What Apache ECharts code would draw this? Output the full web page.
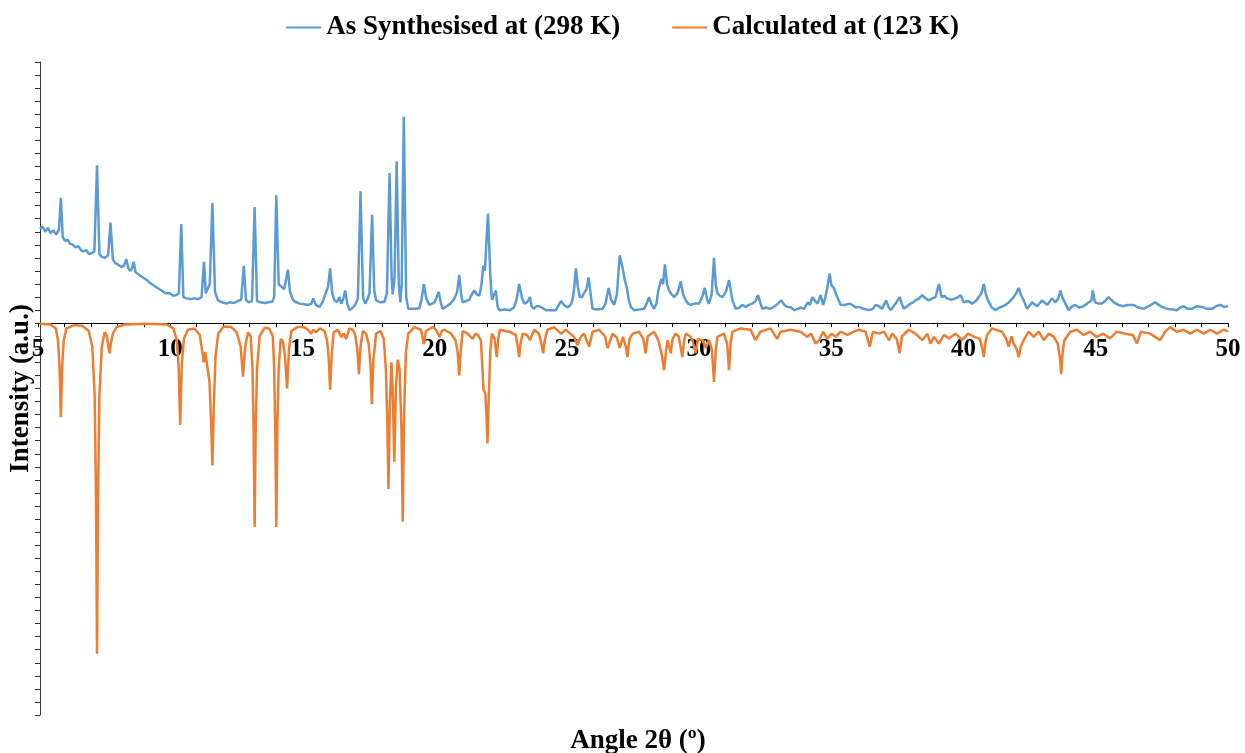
<!DOCTYPE html>
<html>
<head>
<meta charset="utf-8">
<title>PXRD</title>
<script src="https://cdn.jsdelivr.net/npm/echarts@6/dist/echarts.min.js"></script>
<style>
    html, body {margin: 0; padding: 0; background: #fff;}
    #main {width: 1245px; height: 753px;}
</style>
</head>
<body>
<div id="main"></div>
<script>
//legend names
let seriesNames = ['As Synthesised at (298 K)', 'Calculated at (123 K)']
//axis titles
let xTitle = 'Angle 2θ (º)'
let yTitle = 'Intensity (a.u.)'
//x axis range and the labelled angles
let angleMin = 5
let angleMax = 50
let angleLabels = [5, 10, 15, 20, 25, 30, 35, 40, 45, 50]
//intensity range (measured above zero, calculated below)
let intensityMin = -30
let intensityMax = 20

//measured pattern [2theta, intensity]
let asSynthesised = [
    [5.00, 7.2], [5.1, 7.4], [5.2, 7.0], [5.3, 7.3], [5.4, 6.9], [5.5, 7.1], [5.62, 6.8], [5.72, 7.2], [5.79, 9.6], [5.86, 6.6],
    [5.95, 6.3], [6.05, 6.4], [6.13, 6.1], [6.25, 6.0], [6.35, 5.8], [6.45, 5.9], [6.55, 5.6], [6.63, 5.5], [6.75, 5.6], [6.85, 5.3],
    [6.95, 5.35], [7.06, 5.5], [7.16, 12.1], [7.25, 5.3], [7.33, 5.1], [7.45, 5.0], [7.58, 5.2], [7.67, 7.7], [7.76, 4.9], [7.85, 4.6],
    [7.95, 4.5], [8.08, 4.3], [8.18, 4.4], [8.27, 4.9], [8.35, 4.2], [8.42, 4.0], [8.48, 4.2], [8.55, 4.7], [8.62, 3.9], [8.75, 3.7],
    [8.9, 3.5], [9.05, 3.3], [9.15, 3.1], [9.3, 2.9], [9.45, 2.7], [9.6, 2.5], [9.75, 2.3], [9.9, 2.3], [10.05, 2.1], [10.16, 2.15],
    [10.26, 2.3], [10.35, 7.6], [10.43, 2.0], [10.55, 1.9], [10.7, 1.85], [10.85, 1.9], [11.0, 1.85], [11.12, 2.0], [11.21, 4.7], [11.28, 2.3],
    [11.35, 2.3], [11.43, 3.0], [11.53, 9.2], [11.63, 2.4], [11.74, 1.75], [11.9, 1.6], [12.05, 1.5], [12.2, 1.6], [12.35, 1.55], [12.5, 1.7],
    [12.62, 1.8], [12.72, 4.4], [12.8, 1.8], [12.9, 1.6], [13.03, 1.7], [13.13, 8.9], [13.22, 1.7], [13.35, 1.6], [13.5, 1.55], [13.65, 1.6],
    [13.8, 1.65], [13.87, 2.0], [13.95, 9.8], [14.04, 3.0], [14.14, 2.8], [14.25, 2.6], [14.39, 4.1], [14.47, 2.4], [14.58, 1.8], [14.7, 1.6],
    [14.85, 1.5], [15.0, 1.45], [15.15, 1.4], [15.28, 1.5], [15.35, 1.9], [15.45, 1.4], [15.59, 1.25], [15.7, 1.6], [15.84, 2.4], [15.91, 2.8],
    [15.99, 4.2], [16.07, 2.3], [16.15, 1.75], [16.25, 1.6], [16.34, 2.0], [16.41, 1.5], [16.48, 1.8], [16.56, 2.5], [16.64, 1.5], [16.72, 1.0],
    [16.85, 1.2], [16.94, 1.4], [17.04, 1.9], [17.14, 10.1], [17.24, 1.9], [17.32, 1.5], [17.42, 1.9], [17.48, 2.3], [17.58, 8.3], [17.66, 2.5],
    [17.73, 1.75], [17.9, 1.6], [18.05, 1.65], [18.14, 2.3], [18.24, 11.5], [18.32, 3.5], [18.36, 2.2], [18.43, 3.5], [18.51, 12.4], [18.59, 3.0],
    [18.65, 1.6], [18.7, 3.0], [18.78, 15.8], [18.87, 2.0], [18.95, 1.1], [19.1, 1.1], [19.25, 1.1], [19.37, 1.15], [19.45, 1.8], [19.54, 3.0],
    [19.63, 1.9], [19.75, 1.4], [19.85, 1.5], [19.95, 1.6], [20.1, 2.4], [20.18, 1.6], [20.25, 1.1], [20.4, 1.3], [20.55, 1.5], [20.7, 1.9],
    [20.8, 2.4], [20.88, 3.7], [20.96, 2.1], [21.01, 1.6], [21.15, 1.7], [21.26, 1.8], [21.35, 2.2], [21.45, 2.5], [21.55, 2.2], [21.64, 2.1],
    [21.72, 2.9], [21.79, 4.4], [21.85, 4.0], [21.97, 8.4], [22.06, 3.5], [22.12, 1.8], [22.2, 2.2], [22.27, 2.5], [22.33, 1.3], [22.4, 1.0],
    [22.6, 1.05], [22.8, 1.0], [22.95, 1.2], [23.05, 1.8], [23.15, 3.0], [23.25, 2.0], [23.34, 1.5], [23.45, 1.6], [23.56, 2.0], [23.62, 1.3],
    [23.7, 1.1], [23.8, 1.3], [23.91, 1.3], [24.0, 1.2], [24.16, 1.0], [24.35, 1.0], [24.54, 1.0], [24.65, 1.4], [24.73, 1.7], [24.85, 1.4],
    [24.98, 1.2], [25.1, 1.4], [25.17, 1.8], [25.23, 2.6], [25.3, 4.2], [25.37, 2.8], [25.45, 2.0], [25.53, 2.0], [25.61, 2.3], [25.7, 2.6],
    [25.78, 3.5], [25.86, 2.2], [25.93, 1.1], [26.1, 1.05], [26.31, 1.1], [26.42, 1.5], [26.54, 2.7], [26.63, 1.8], [26.75, 1.4], [26.85, 2.2],
    [26.96, 5.2], [27.07, 4.2], [27.15, 3.3], [27.23, 2.7], [27.3, 1.8], [27.38, 1.25], [27.5, 1.0], [27.7, 1.05], [27.88, 1.1], [27.98, 1.5],
    [28.07, 2.0], [28.15, 1.5], [28.26, 1.1], [28.35, 1.5], [28.42, 2.5], [28.54, 3.4], [28.6, 3.0], [28.67, 4.5], [28.75, 3.0], [28.83, 2.5],
    [28.93, 2.2], [29.02, 2.0], [29.15, 2.3], [29.27, 3.2], [29.36, 2.2], [29.46, 1.75], [29.55, 1.5], [29.65, 1.4], [29.8, 1.5], [29.97, 1.5],
    [30.08, 2.0], [30.18, 2.7], [30.27, 1.8], [30.34, 1.5], [30.44, 2.2], [30.53, 5.0], [30.6, 2.9], [30.66, 2.3], [30.76, 2.1], [30.85, 2.0],
    [30.98, 2.4], [31.1, 3.3], [31.18, 2.3], [31.23, 1.75], [31.35, 1.1], [31.5, 1.2], [31.6, 1.4], [31.73, 1.25], [31.85, 1.4], [31.98, 1.5],
    [32.1, 1.7], [32.2, 2.15], [32.28, 1.6], [32.36, 1.1], [32.5, 1.2], [32.65, 1.1], [32.8, 1.25], [32.95, 1.5], [33.08, 1.75], [33.2, 1.4],
    [33.31, 1.25], [33.45, 1.2], [33.56, 1.0], [33.7, 1.1], [33.8, 1.2], [33.94, 1.1], [34.08, 1.6], [34.16, 1.4], [34.26, 2.0], [34.36, 1.7],
    [34.45, 1.5], [34.57, 2.15], [34.66, 1.4], [34.75, 2.0], [34.82, 2.7], [34.91, 3.8], [34.98, 2.9], [35.07, 2.7], [35.2, 2.0], [35.33, 1.4],
    [35.5, 1.4], [35.65, 1.5], [35.77, 1.4], [35.9, 1.2], [36.02, 1.25], [36.2, 1.1], [36.4, 1.0], [36.55, 1.1], [36.65, 1.4], [36.78, 1.3],
    [36.9, 1.1], [37.05, 1.75], [37.15, 1.2], [37.22, 1.0], [37.41, 1.5], [37.56, 2.0], [37.64, 1.5], [37.72, 1.1], [37.85, 1.3], [37.97, 1.5],
    [38.08, 1.6], [38.16, 1.75], [38.3, 1.9], [38.42, 2.15], [38.55, 1.9], [38.67, 1.75], [38.8, 1.9], [38.92, 2.0], [39.05, 3.0], [39.15, 2.0],
    [39.25, 2.1], [39.36, 1.9], [39.5, 1.8], [39.68, 1.9], [39.78, 2.0], [39.87, 2.15], [39.99, 1.6], [40.15, 1.7], [40.31, 1.5], [40.45, 1.7],
    [40.56, 2.0], [40.66, 2.3], [40.75, 3.0], [40.83, 2.2], [40.91, 1.75], [41.05, 1.2], [41.19, 1.0], [41.35, 1.2], [41.57, 1.4], [41.7, 1.6],
    [41.88, 2.0], [41.98, 2.3], [42.07, 2.7], [42.17, 2.1], [42.26, 1.75], [42.39, 1.1], [42.58, 1.6], [42.77, 1.3], [42.96, 1.75], [43.15, 1.4],
    [43.33, 1.9], [43.46, 1.6], [43.57, 1.9], [43.65, 2.5], [43.72, 2.0], [43.77, 1.9], [43.96, 1.0], [44.1, 1.3], [44.22, 1.4], [44.35, 1.2],
    [44.47, 1.25], [44.6, 1.4], [44.72, 1.6], [44.82, 1.7], [44.88, 2.5], [44.94, 1.8], [44.97, 1.6], [45.1, 1.5], [45.22, 1.5], [45.35, 1.7],
    [45.47, 2.0], [45.57, 1.8], [45.67, 1.6], [45.85, 1.4], [46.04, 1.3], [46.2, 1.4], [46.42, 1.4], [46.6, 1.2], [46.8, 1.1], [47.0, 1.3],
    [47.24, 1.6], [47.45, 1.3], [47.69, 1.1], [47.9, 1.05], [48.06, 1.0], [48.2, 1.2], [48.32, 1.3], [48.45, 1.1], [48.63, 1.1], [48.8, 1.3],
    [49.01, 1.25], [49.2, 1.1], [49.39, 1.1], [49.55, 1.3], [49.71, 1.4], [49.85, 1.25], [50.0, 1.3]
]

//calculated pattern, drawn downwards [2theta, intensity]
let calculated = [
    [5.0, -0.05], [5.4, -0.1], [5.6, -0.4], [5.68, -1.3], [5.74, -3.3], [5.79, -7.2], [5.84, -3.3], [5.9, -1.3], [6.0, -0.4], [6.3, -0.15],
    [6.6, -0.2], [6.85, -0.6], [6.98, -1.8], [7.07, -5.5], [7.12, -13], [7.16, -25.3], [7.2, -13], [7.25, -5.5], [7.34, -1.8], [7.45, -0.7],
    [7.52, -0.9], [7.6, -1.9], [7.64, -2.3], [7.68, -1.6], [7.76, -0.8], [7.9, -0.3], [8.2, -0.1], [9.0, -0.05], [9.8, -0.1], [10.05, -0.4],
    [10.18, -1.3], [10.25, -3.2], [10.31, -7.8], [10.37, -3.2], [10.45, -1.2], [10.6, -0.5], [10.85, -0.4], [11.05, -0.9], [11.15, -2.2], [11.2, -3.0],
    [11.26, -2.2], [11.32, -2.1], [11.42, -4.5], [11.48, -7.5], [11.53, -10.9], [11.58, -6.5], [11.65, -2.5], [11.75, -0.8], [11.95, -0.25], [12.25, -0.3],
    [12.45, -0.7], [12.6, -1.8], [12.69, -4.1], [12.77, -1.8], [12.88, -0.7], [12.98, -1.0], [13.05, -3.5], [13.09, -8], [13.13, -15.6], [13.17, -8],
    [13.22, -3.5], [13.32, -1.0], [13.5, -0.35], [13.68, -0.4], [13.82, -1.0], [13.87, -3.5], [13.91, -8], [13.95, -15.6], [13.99, -8], [14.04, -3.5],
    [14.12, -1.2], [14.2, -1.4], [14.28, -2.5], [14.36, -5.0], [14.43, -2.0], [14.52, -0.6], [14.75, -0.3], [15.0, -0.3], [15.15, -0.5], [15.27, -0.8],
    [15.35, -0.5], [15.45, -0.7], [15.6, -0.4], [15.78, -0.6], [15.88, -1.4], [15.94, -2.8], [15.99, -5.1], [16.05, -2.4], [16.12, -0.7], [16.28, -0.5],
    [16.41, -1.05], [16.5, -0.8], [16.6, -1.2], [16.72, -0.4], [16.85, -0.5], [16.94, -0.9], [17.02, -2.0], [17.08, -3.9], [17.14, -1.8], [17.23, -0.6],
    [17.35, -0.8], [17.45, -1.6], [17.52, -3.2], [17.57, -6.2], [17.63, -2.8], [17.73, -0.8], [17.9, -0.6], [18.02, -1.2], [18.1, -3.5], [18.15, -7],
    [18.2, -12.7], [18.25, -6.5], [18.31, -3.0], [18.36, -5], [18.42, -10.6], [18.48, -5], [18.55, -2.8], [18.62, -3.5], [18.69, -8], [18.74, -15.2],
    [18.79, -7], [18.86, -2.2], [18.95, -0.8], [19.18, -0.3], [19.43, -0.5], [19.54, -1.6], [19.62, -0.6], [19.87, -0.3], [20.0, -0.5], [20.13, -1.05],
    [20.22, -0.6], [20.32, -0.5], [20.57, -0.8], [20.74, -1.3], [20.82, -2.2], [20.88, -4.0], [20.94, -2.0], [21.01, -0.6], [21.2, -0.8], [21.39, -1.2],
    [21.5, -0.8], [21.58, -0.9], [21.7, -1.3], [21.76, -3.5], [21.8, -5.1], [21.87, -5.4], [21.91, -7], [21.95, -9.2], [22.0, -5.5], [22.06, -2],
    [22.12, -0.8], [22.22, -1.2], [22.3, -2.6], [22.36, -1.2], [22.42, -0.5], [22.77, -0.65], [23.02, -0.9], [23.1, -1.8], [23.15, -2.6], [23.2, -1.6],
    [23.28, -0.8], [23.45, -0.9], [23.56, -1.3], [23.72, -0.5], [23.9, -0.8], [24.0, -1.6], [24.06, -2.3], [24.12, -1.3], [24.22, -0.5], [24.47, -0.3],
    [24.73, -0.8], [24.92, -0.5], [25.23, -1.05], [25.36, -1.7], [25.48, -1.05], [25.61, -0.8], [25.8, -1.8], [25.93, -0.65], [26.18, -0.5], [26.4, -1.0],
    [26.5, -1.9], [26.69, -0.8], [26.85, -1.1], [26.96, -1.9], [27.08, -1.05], [27.19, -1.8], [27.25, -2.6], [27.33, -1.2], [27.45, -0.8], [27.69, -0.65],
    [27.85, -1.2], [27.94, -2.3], [28.02, -1.0], [28.26, -0.65], [28.42, -1.3], [28.55, -2.4], [28.64, -3.6], [28.72, -2.0], [28.77, -1.3], [28.89, -2.3],
    [28.96, -1.2], [29.08, -0.8], [29.2, -1.05], [29.33, -2.6], [29.4, -1.3], [29.46, -0.8], [29.62, -1.0], [29.71, -1.3], [29.84, -2.3], [29.92, -1.2],
    [29.97, -1.05], [30.1, -1.3], [30.22, -1.9], [30.34, -1.3], [30.45, -2.0], [30.53, -4.5], [30.6, -2.0], [30.66, -1.05], [30.91, -0.8], [31.03, -1.6],
    [31.1, -3.6], [31.16, -1.5], [31.23, -0.65], [31.54, -0.4], [31.92, -0.5], [32.1, -1.3], [32.29, -0.65], [32.67, -0.4], [32.92, -1.2], [33.05, -0.65],
    [33.43, -0.5], [33.81, -0.65], [34.07, -1.05], [34.2, -0.8], [34.3, -1.2], [34.38, -1.56], [34.51, -1.3], [34.66, -0.65], [34.82, -1.17], [34.99, -0.8],
    [35.14, -1.05], [35.33, -0.65], [35.58, -0.9], [35.83, -0.65], [36.02, -0.5], [36.27, -0.65], [36.43, -1.8], [36.55, -0.65], [36.78, -0.8], [36.97, -0.65],
    [37.16, -1.3], [37.28, -0.8], [37.45, -1.2], [37.56, -2.3], [37.65, -1.0], [37.91, -0.5], [38.16, -0.8], [38.42, -1.3], [38.61, -0.8], [38.73, -1.56],
    [38.86, -1.05], [39.05, -1.56], [39.24, -0.9], [39.43, -1.17], [39.68, -0.8], [39.93, -1.3], [40.15, -0.8], [40.4, -1.05], [40.6, -1.2], [40.7, -2.0],
    [40.75, -2.6], [40.81, -1.5], [40.87, -0.9], [41.06, -0.4], [41.44, -0.65], [41.6, -1.2], [41.69, -1.8], [41.8, -1.0], [41.88, -1.56], [42.0, -2.0],
    [42.07, -2.6], [42.15, -1.8], [42.26, -1.3], [42.45, -0.65], [42.64, -1.05], [42.83, -0.65], [43.02, -1.3], [43.21, -0.8], [43.4, -1.05], [43.55, -1.56],
    [43.63, -2.6], [43.68, -3.9], [43.74, -2.2], [43.8, -1.3], [44.03, -0.65], [44.28, -0.5], [44.53, -0.9], [44.78, -0.65], [45.03, -1.05], [45.28, -0.8],
    [45.53, -1.17], [45.79, -0.65], [46.1, -0.8], [46.4, -0.9], [46.55, -1.56], [46.7, -0.65], [47.05, -0.8], [47.43, -1.3], [47.62, -0.65], [47.81, -0.3],
    [48.06, -0.65], [48.32, -0.5], [48.57, -0.8], [48.82, -0.5], [49.08, -0.8], [49.33, -0.5], [49.58, -0.8], [49.84, -0.5], [50.0, -0.65]
]

let serifFont = '"Liberation Serif", "Times New Roman", serif'

//plot box, the upper grid covers only the part above zero so its x axis lands on zero
let plotLeft = 38
let plotRight = 17
let plotTop = 62
let plotBottom = 38
let upperHeight = (753 - plotTop - plotBottom) * intensityMax / (intensityMax - intensityMin)

let myChart = echarts.init(document.getElementById('main'))

let option = {
    animation: false,
    backgroundColor: '#fff',
    //x axis title sits under the plot
    title: {
        text: xTitle,
        left: 633,
        top: 723,
        textAlign: 'center',
        textStyle: {
            fontFamily: serifFont,
            fontWeight: 'bold',
            fontSize: 27,
            color: '#000'
        }
    },
    legend: {
        top: 9,
        left: 'center',
        icon: 'rect',
        itemWidth: 35,
        itemHeight: 2,
        itemGap: 52,
        textStyle: {
            fontFamily: serifFont,
            fontWeight: 'bold',
            fontSize: 27,
            color: '#000'
        },
        data: seriesNames
    },
    grid: [
        {left: plotLeft, right: plotRight, top: plotTop, bottom: plotBottom},
        {left: plotLeft, right: plotRight, top: plotTop, height: upperHeight}
    ],
    xAxis: [
        {
            //data axis, drawn by the one below
            gridIndex: 0,
            type: 'value',
            min: angleMin,
            max: angleMax,
            show: false
        },
        {
            //zero line with ticks and labels
            gridIndex: 1,
            type: 'value',
            position: 'bottom',
            min: angleMin,
            max: angleMax,
            interval: 1,
            axisLine: {onZero: false, lineStyle: {color: '#000', width: 1}},
            axisTick: {show: true, length: 4, lineStyle: {color: '#000'}},
            axisLabel: {
                margin: 14,
                fontFamily: serifFont,
                fontWeight: 'bold',
                fontSize: 25,
                color: '#000',
                formatter: function (v) {
                    return angleLabels.indexOf(v) > -1 ? String(v) : ''
                }
            },
            splitLine: {show: false}
        }
    ],
    yAxis: [
        {
            gridIndex: 0,
            type: 'value',
            min: intensityMin,
            max: intensityMax,
            interval: 1,
            name: yTitle,
            nameLocation: 'middle',
            nameGap: 5,
            nameTextStyle: {
                fontFamily: serifFont,
                fontWeight: 'bold',
                fontSize: 27,
                color: '#000'
            },
            axisLine: {show: true, onZero: false, lineStyle: {color: '#333', width: 1}},
            axisTick: {show: true, length: 5, lineStyle: {color: '#333'}},
            axisLabel: {show: false},
            splitLine: {show: false}
        },
        {
            gridIndex: 1,
            type: 'value',
            min: 0,
            max: intensityMax,
            show: false
        }
    ],
    series: [
        {
            name: seriesNames[0],
            type: 'line',
            xAxisIndex: 0,
            yAxisIndex: 0,
            symbol: 'none',
            lineStyle: {color: '#5B9BD5', width: 2.5},
            itemStyle: {color: '#5B9BD5'},
            data: asSynthesised,
            z: 3
        },
        {
            name: seriesNames[1],
            type: 'line',
            xAxisIndex: 0,
            yAxisIndex: 0,
            symbol: 'none',
            lineStyle: {color: '#ED7D31', width: 2.5},
            itemStyle: {color: '#ED7D31'},
            data: calculated,
            z: 2
        }
    ]
}
myChart.setOption(option)
</script>
</body>
</html>
